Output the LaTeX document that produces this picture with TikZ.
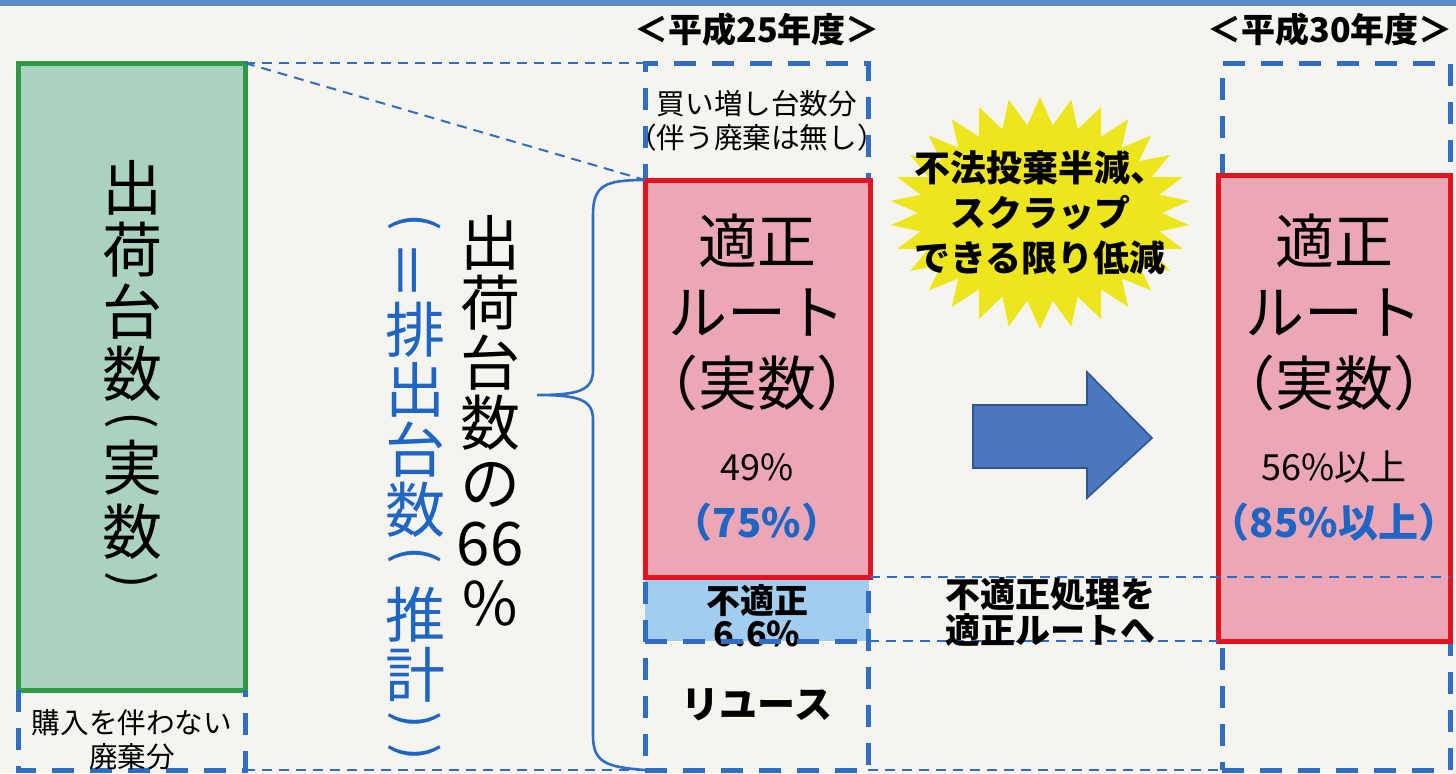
\documentclass[tikz,border=0pt]{standalone}
\usepackage{fontspec}
\setmainfont{Noto Sans CJK JP}
\usetikzlibrary{shapes.symbols}

\definecolor{paper}{HTML}{F6F4EF}
\definecolor{topband}{HTML}{5B8DC8}
\definecolor{boxgreen}{HTML}{A9D3BE}
\definecolor{linegreen}{HTML}{2E9A48}
\definecolor{boxpink}{HTML}{ECA7B6}
\definecolor{linered}{HTML}{E2121E}
\definecolor{boxblue}{HTML}{A3CDEE}
\definecolor{dashblue}{HTML}{2F6EC2}
\definecolor{textblue}{HTML}{1F65C3}
\definecolor{burstyellow}{HTML}{EEE61C}
\definecolor{arrowfill}{HTML}{4A77BE}
\definecolor{arrowline}{HTML}{2D5597}

\newcommand{\jsize}[2]{\fontsize{#1}{#2}\selectfont}

\begin{document}
\begin{tikzpicture}[x=0.5pt,y=-0.5pt]
	\tikzstyle{every node}=[inner sep=0pt,outer sep=0pt]
	\tikzstyle{colbox}=[draw=dashblue,line width=2.5pt,dash pattern=on 11pt off 8pt]
	\tikzstyle{thindash}=[draw=dashblue,line width=1pt,dash pattern=on 5pt off 3.5pt]
	\tikzstyle{routebox}=[rectangle,fill=boxpink,draw=linered,line width=2.5pt]
	\tikzstyle{bigtxt}=[align=center,font=\jsize{29.5pt}{35.5pt}]
	\tikzstyle{vtxt}=[align=center,font=\jsize{30pt}{30pt}]
	\tikzstyle{vparen}=[rotate=-90,font=\jsize{26pt}{26pt}]
	\tikzstyle{pct}=[font=\jsize{18pt}{20pt}]
	\tikzstyle{bluepct}=[font=\bfseries\jsize{20pt}{24pt},text=textblue]
	\tikzstyle{boldtxt}=[align=center,font=\bfseries\jsize{17pt}{16.5pt}]
	\tikzstyle{smalltxt}=[align=center,font=\jsize{14.3pt}{17pt}]

	\fill[paper] (0,0) rectangle (1456,773);
	\useasboundingbox (0,0) rectangle (1456,773);
	\fill[topband] (0,0) rectangle (1456,6);

	\coordinate (bottom) at (0,770);
	\node[rectangle,minimum width=113.5pt,minimum height=313.5pt,fill=boxgreen,draw=linegreen,line width=2.5pt] (ship) at (131.5,376.5) {};
	\node[minimum width=112pt,minimum height=32pt,fill=boxblue] (improper) at (756.5,609) {};
	\node[colbox,minimum width=111.5pt,minimum height=353.5pt] (col25) at (756.5,416.5) {};
	\node[colbox,minimum width=114pt,minimum height=353.5pt] (col30) at (1336,416.5) {};
	\draw[thindash] (ship.north east) -- (col25.north west);
	\draw[thindash] (ship.north east) -- (645,180);
	\node[routebox,minimum width=112.5pt,minimum height=198.5pt] (route25) at (757.5,378.5) {};
	\node[routebox,minimum width=116pt,minimum height=233pt] (route30) at (1334,408) {};
	\draw[colbox] (ship.south west) -- (ship.south west |- bottom) -- (ship.south east |- bottom) -- (ship.south east);
	\draw[thindash] (ship.south east |- bottom) -- (col25.south west);
	\draw[thindash] (col25.south east) -- (col30.south west);
	\draw[thindash] (route25.south east) -- (col30.east |- route25.south east);
	\draw[thindash] (improper.south east) -- (route30.south west);

	\node[font=\bfseries\jsize{17pt}{20pt}] (year25) at (757,30) {＜平成25年度＞};
	\node[font=\bfseries\jsize{17pt}{20pt}] (year30) at (1330,30) {＜平成30年度＞};
	\node[vtxt,anchor=north,font=\jsize{30pt}{31pt}] (shiptxt) at (132,160) {出\\荷\\台\\数};
	\node[vparen] (shipopen) at (132,420) {(};
	\node[vtxt,font=\jsize{30pt}{32pt}] (shiptxt2) at (132,500) {実\\数};
	\node[vparen] (shipclose) at (132,580) {)};
	\node[smalltxt] (discard) at (132,740) {購入を伴わない\\廃棄分};
	\node[vparen,text=textblue] (emitopen) at (415,222) {(};
	\node[vtxt,rotate=90,text=textblue] (emiteq) at (415,270) {＝};
	\node[vtxt,text=textblue] (emit) at (415,420) {排\\出\\台\\数};
	\node[vparen,text=textblue] (emitopen2) at (415,555) {(};
	\node[vtxt,text=textblue] (emit2) at (415,645) {推\\計};
	\node[vparen,text=textblue] (emitclose) at (415,720) {)};
	\node[vparen,text=textblue] (emitclose2) at (415,752) {)};
	\node[vtxt,anchor=north] (ratio) at (490,215) {出\\荷\\台\\数\\の\\66\\\%};
	\node[smalltxt] (buy) at (757,121) {買い増し台数分\\（伴う廃棄は無し）};
	\node[bigtxt] (route25txt) at (757,313) {適正\\ルート\\（実数）};
	\node[pct] (pct25) at (757,467) {49\%};
	\node[bluepct] (pct25b) at (757,522) {（75\%）};
	\node[boldtxt] (impropertxt) at (757,616) {不適正\\6.6\%};
	\draw[colbox] (improper.south west) -- (improper.south east);
	\node[font=\bfseries\jsize{19pt}{20pt}] (reuse) at (757,705) {リユース};
	\node[boldtxt,font=\bfseries\jsize{17.5pt}{15.5pt}] (fixtxt) at (1050,612) {不適正処理を\\適正ルートへ};
	\node[bigtxt] (route30txt) at (1334,313) {適正\\ルート\\（実数）};
	\node[pct] (pct30) at (1334,467) {56\%以上};
	\node[bluepct] (pct30b) at (1334,522) {（85\%以上）};

	\node[starburst,starburst points=30,starburst point height=14pt,random starburst=0,fill=burstyellow,minimum width=150pt,minimum height=116pt] (goal) at (1040,213) {};
	\node[align=center,font=\bfseries\jsize{18pt}{22.5pt}] (goaltxt) at (goal) {不法投棄半減、\\スクラップ\\できる限り低減};

	\filldraw[fill=arrowfill,draw=arrowline,line width=0.8pt] (973,405) -- (1087,405) -- (1087,372) -- (1152,438) -- (1087,498) -- (1087,468) -- (973,468) -- cycle;

	\coordinate (tip) at (537,395);
	\draw[dashblue,line width=1.3pt] (route25.north west) .. controls (605,180) and (593,185) .. (593,215) -- (593,370) .. controls (593,390) and (580,395) .. (tip) .. controls (580,395) and (593,400) .. (593,420) -- (593,735) .. controls (593,762) and (605,767) .. (col25.south west);
\end{tikzpicture}
\end{document}
